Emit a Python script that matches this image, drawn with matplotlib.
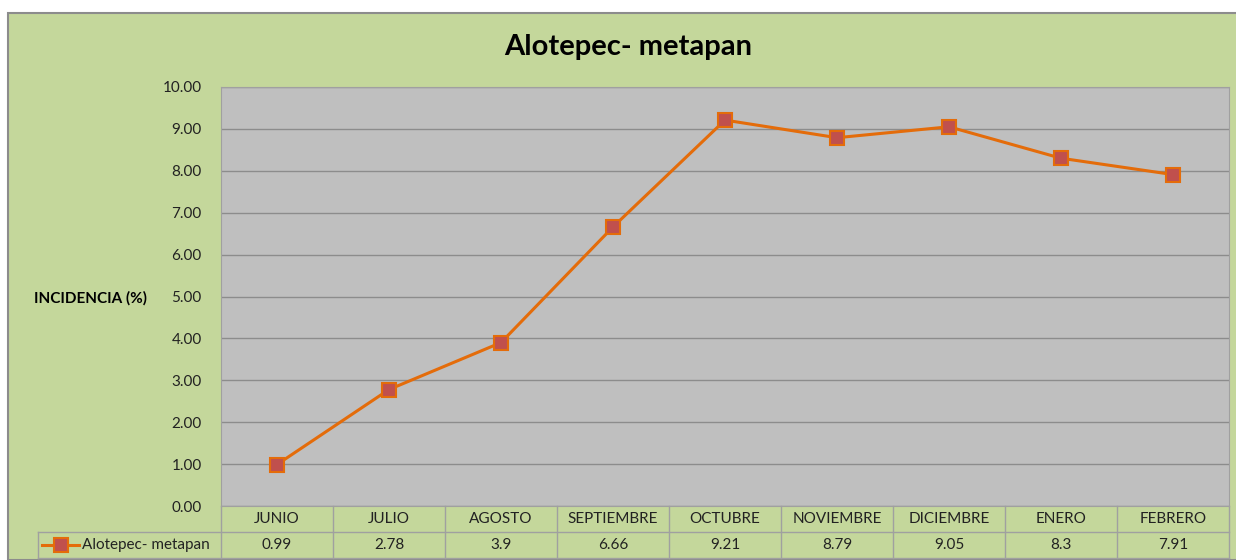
import matplotlib.pyplot as plt
from matplotlib.patches import Rectangle
from matplotlib.transforms import blended_transform_factory
import numpy as np

months = ["JUNIO", "JULIO", "AGOSTO", "SEPTIEMBRE", "OCTUBRE",
          "NOVIEMBRE", "DICIEMBRE", "ENERO", "FEBRERO"]
values = [0.99, 2.78, 3.9, 6.66, 9.21, 8.79, 9.05, 8.3, 7.91]
value_labels = ["0.99", "2.78", "3.9", "6.66", "9.21", "8.79", "9.05", "8.3", "7.91"]
series_name = "Alotepec- metapan"

GREEN = "#C4D79B"
PLOT_BG = "#BFBFBF"
LINE = "#E46C0A"
MARKER = "#C0504D"
GRID = "#8C8C8C"
TABLE_LINE = "#A0A0A0"

plt.rcParams["font.family"] = ["Lato", "DejaVu Sans"]

W, H = 1236, 560
fig = plt.figure(figsize=(W / 100, H / 100), dpi=100)
fig.patch.set_facecolor("white")

# green chart area with gray border (clipped at right / bottom)
fig.patches.append(Rectangle((8 / W, 0), 1.0, 1 - 13 / H, transform=fig.transFigure,
                             facecolor=GREEN, edgecolor="#8C8C8C", linewidth=1.5, zorder=-1))

left, right, top, bottom = 221, 1229, 87, 506
ax = fig.add_axes([left / W, 1 - bottom / H, (right - left) / W, (bottom - top) / H])
ax.set_zorder(1)
ax.set_facecolor(PLOT_BG)

x = np.arange(len(months))
ax.plot(x, values, color=LINE, linewidth=2.2, marker="s", markersize=10,
        markerfacecolor=MARKER, markeredgecolor=LINE, markeredgewidth=1.5, zorder=3)

ax.set_xlim(-0.5, len(months) - 0.5)
ax.set_ylim(0, 10)
ax.set_yticks(np.arange(0, 10.01, 1))
ax.set_yticklabels([f"{v:.2f}" for v in np.arange(0, 10.01, 1)])
ax.tick_params(axis="y", length=0, pad=14, labelsize=11, labelcolor="#222222")
ax.set_xticks([])
ax.grid(axis="y", color=GRID, linewidth=1)
ax.set_axisbelow(True)
for s in ["left", "top", "right", "bottom"]:
    ax.spines[s].set_color("#A0A0A0")

fig.text(628 / W, 1 - 47 / H, series_name, ha="center", va="center",
         fontsize=21, fontweight="bold", color="black")
fig.text(34 / W, 1 - 298 / H, "INCIDENCIA (%)", ha="left", va="center",
         fontsize=11, fontweight="bold", color="black")

# data table below the plot
plot_h = bottom - top
row_h = 26 / plot_h
tr = blended_transform_factory(ax.transData, ax.transAxes)
legend_x0 = -0.5 - (left - 38) / ((right - left) / len(months))
xmax = len(months) - 0.5

lk = dict(transform=tr, color=TABLE_LINE, linewidth=1, clip_on=False)
ax.plot([legend_x0, xmax], [-row_h, -row_h], **lk)
ax.plot([legend_x0, xmax], [-2 * row_h, -2 * row_h], **lk)
ax.plot([legend_x0, legend_x0], [-row_h, -2 * row_h], **lk)
for i in range(len(months) + 1):
    ax.plot([i - 0.5, i - 0.5], [0, -2 * row_h], **lk)

for i, (m, v) in enumerate(zip(months, value_labels)):
    ax.text(i, -0.5 * row_h, m, transform=tr, ha="center", va="center",
            fontsize=11, color="#222222", clip_on=False)
    ax.text(i, -1.5 * row_h, v, transform=tr, ha="center", va="center",
            fontsize=11, color="#222222", clip_on=False)

# legend key inside table
ax.plot([legend_x0 + 0.04, legend_x0 + 0.37], [-1.5 * row_h, -1.5 * row_h],
        transform=tr, color=LINE, linewidth=2.2, clip_on=False)
ax.plot([legend_x0 + 0.205], [-1.5 * row_h], transform=tr, marker="s", markersize=10,
        markerfacecolor=MARKER, markeredgecolor=LINE, markeredgewidth=1.5, clip_on=False)
ax.text(legend_x0 + 0.39, -1.5 * row_h, series_name, transform=tr, ha="left",
        va="center", fontsize=11, color="#222222", clip_on=False)

fig.savefig("out.png", dpi=100, facecolor=fig.get_facecolor())
